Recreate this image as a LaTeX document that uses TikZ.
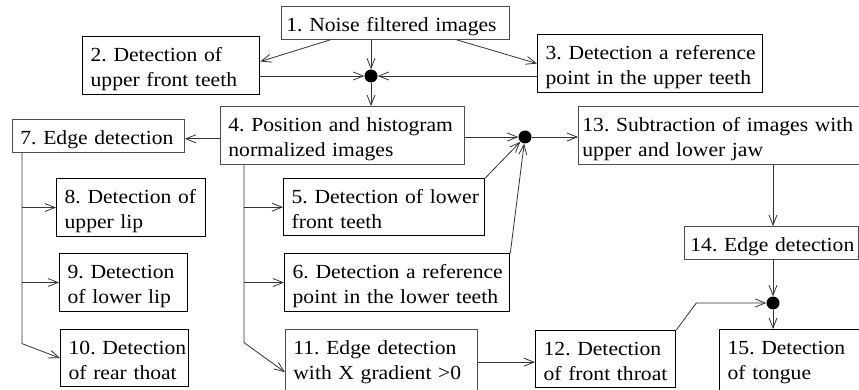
\documentclass[tikz,border=0pt]{standalone}
\usepackage{fontspec}
\setmainfont[FakeStretch=1.08]{Liberation Serif}
\usetikzlibrary{arrows.meta,calc}
\frenchspacing
% struts giving every box the same line geometry
\newcommand\topstrut{\rule{0pt}{21.5pt}}
\newcommand\botstrut{\rule[-3.5pt]{0pt}{0pt}}
\newcommand\deepstrut{\rule[-12pt]{0pt}{0pt}}
\begin{document}
\begin{tikzpicture}[x=1pt,y=-1pt]
\tikzset{
  box/.style={draw, anchor=north west, align=left,
    font=\fontsize{20}{25}\selectfont, inner xsep=8pt, inner ysep=3.5pt,
    execute at begin node=\topstrut, execute at end node=\botstrut},
  thinbox/.style={box, draw=black!70, line width=0.8pt},
  thickbox/.style={box, draw=black, line width=1.3pt},
  conn/.style={draw=black!80, line width=0.8pt},
  arr/.style={conn, -{Straight Barb[length=10pt,width=8pt]}},
  dot/.style={circle, fill=black, inner sep=0pt, minimum size=13pt},
}
\useasboundingbox (0,0) rectangle (859,390);

% boxes
\node[thinbox, inner xsep=5pt, text width=218pt] (n1) at (281,6) {\mbox{1. Noise filtered images}};
\node[thickbox, text width=161pt] (n2) at (82,36) {\mbox{2. Detection of}\\\mbox{upper front teeth}};
\node[thickbox, text width=209pt] (n3) at (537,34) {\mbox{3. Detection a reference}\\\mbox{point in the upper teeth}};
\node[thinbox, text width=228pt] (n4) at (220,106) {\mbox{4. Position and histogram}\\\mbox{normalized images}};
\node[thinbox, text width=156pt] (n7) at (12,119) {\mbox{7. Edge detection}};
\node[thinbox, inner xsep=4pt, text width=282pt] (n13) at (578,106) {\mbox{13. Subtraction of images with}\\\mbox{upper and lower jaw}};
\node[thickbox, text width=185pt] (n5) at (283,178) {\mbox{5. Detection of lower}\\\mbox{front teeth}};
\node[thickbox, text width=209pt] (n6) at (284,253) {\mbox{6. Detection a reference}\\\mbox{point in the lower teeth}};
\node[thickbox, text width=133pt] (n8) at (56,178) {\mbox{8. Detection of}\\\mbox{upper lip}};
\node[thickbox, text width=112pt] (n9) at (59,253) {\mbox{9. Detection}\\\mbox{of lower lip}};
\node[thickbox, text width=112pt] (n10) at (60,329) {\mbox{10. Detection}\\\mbox{of rear thoat}};
\node[thinbox, text width=176pt] (n11) at (285,329) {\mbox{11. Edge detection}\\\mbox{with X gradient >0}\deepstrut};
\node[thickbox, text width=124pt] (n12) at (535,330) {\mbox{12. Detection}\\\mbox{of front throat}};
\node[thinbox, inner xsep=6pt, text width=162pt] (n14) at (684,226) {\mbox{14. Edge detection}};
\node[thickbox, text width=134pt] (n15) at (719,329) {\mbox{15. Detection}\\\mbox{of tongue}\deepstrut};

% junction dots
\node[dot] (j1) at (371,76) {};
\node[dot] (j2) at (525,137) {};
\node[dot] (j3) at (773,303) {};

% upper teeth stage
\draw[arr] ($(n1.south west)+(50,0)$) -- ([yshift=4pt]n2.east);
\draw[arr] ($(n1.south west)+(175,0)$) -- (n3.west);
\draw[arr] (j1 |- n1.south) -- (j1);
\draw[arr] (n2.east |- j1) -- (j1);
\draw[arr] (n3.west |- j1) -- (j1);
\draw[arr] (j1) -- (j1 |- n4.north);

% lips and rear throat
\coordinate (a7) at ([yshift=-3pt]n7.east);
\draw[arr] (n4.west |- a7) -- (a7);
\coordinate (t7) at ($(n7.south west)+(10,0)$);
\coordinate (k7) at ($(t7)+(0,191)$);
\draw[arr] (t7) -- (k7) -- (n10.west);
\draw[arr] (t7 |- n8.west) -- (n8.west);
\draw[arr] (t7 |- n9.west) -- (n9.west);

% lower teeth and front throat
\coordinate (t4) at ($(n4.south west)+(24,0)$);
\coordinate (k4) at ($(t4)+(0,178)$);
\draw[arr] (t4) -- (k4) -- ([yshift=-10pt]n11.west);
\draw[arr] (t4 |- n5.west) -- (n5.west);
\draw[arr] (t4 |- n6.west) -- (n6.west);
\draw[arr] (n11.east) -- (n12.west |- n11.east);

% jaw subtraction
\draw[arr] (n4.east |- j2) -- (j2);
\draw[arr] (n5.north east) -- (j2);
\draw[arr] (n6.north east) -- (j2);
\draw[arr] (j2) -- (n13.west |- j2);

% tongue
\draw[arr] (j3 |- n13.south) -- (j3 |- n14.north);
\draw[arr] (j3 |- n14.south) -- (j3);
\coordinate (b12) at ($(n12.north east |- j3)+(20,0)$);
\draw[arr] (n12.north east) -- (b12) -- (j3);
\draw[arr] (j3) -- (j3 |- n15.north);
\end{tikzpicture}
\end{document}
